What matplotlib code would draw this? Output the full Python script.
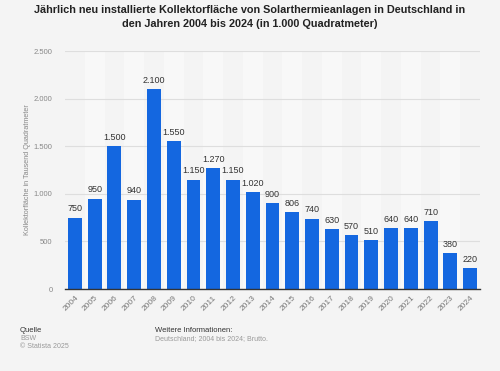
import matplotlib

matplotlib.use("Agg")
import matplotlib.pyplot as plt
import numpy as np

plt.rcParams["font.family"] = ["Liberation Sans", "DejaVu Sans"]

YEARS = [str(y) for y in range(2004, 2025)]
AREA = [750, 950, 1500, 940, 2100, 1550, 1150, 1270, 1150, 1020, 900,
        806, 740, 630, 570, 510, 640, 640, 710, 380, 220]
Y_TICKS = [0, 500, 1000, 1500, 2000, 2500]


def de_fmt(v):
    return f"{v:,}".replace(",", ".")


def main():
    bg = "#f4f4f4"
    fig = plt.figure(figsize=(5, 3.71), dpi=100, facecolor=bg)
    ax = fig.add_axes([0.13, 0.221, 0.83, 0.6415], facecolor=bg)

    x = np.arange(len(YEARS))
    for i in x[1::2]:
        ax.axvspan(i - 0.5, i + 0.5, color="#f8f8f8", zorder=0, lw=0)

    bars = ax.bar(x, AREA, width=0.7, color="#1467e0", zorder=3)
    for b, v in zip(bars, AREA):
        ax.annotate(de_fmt(v), xy=(b.get_x() + b.get_width() / 2, v),
                    xytext=(0, 3), textcoords="offset points",
                    ha="center", va="bottom", fontsize=6.5, color="#333333")

    ax.set_xlim(-0.5, len(YEARS) - 0.5)
    ax.set_ylim(0, 2500)
    ax.set_yticks(Y_TICKS)
    ax.set_yticklabels([de_fmt(t) for t in Y_TICKS], fontsize=5.5, color="#888888")
    ax.set_xticks(x)
    ax.set_xticklabels(YEARS, rotation=45, ha="right", rotation_mode="anchor",
                       fontsize=6, color="#777777")
    ax.tick_params(length=0, pad=9)
    ax.tick_params(axis="x", pad=4)
    ax.grid(axis="y", color="#dedede", lw=0.8, zorder=1)
    for s in ("top", "right", "left"):
        ax.spines[s].set_visible(False)
    ax.spines["bottom"].set_color("#333333")
    ax.spines["bottom"].set_linewidth(1)
    ax.spines["bottom"].set_zorder(4)
    ax.set_ylabel("Kollektorfläche in Tausend Quadratmeter", fontsize=5.2,
                  color="#888888", labelpad=2)

    fig.text(0.5, 1 - 17 / 371,
             "Jährlich neu installierte Kollektorfläche von Solarthermieanlagen in Deutschland in\n"
             "den Jahren 2004 bis 2024 (in 1.000 Quadratmeter)",
             ha="center", va="center", fontsize=7.8, fontweight="bold",
             color="#222222", linespacing=1.6)

    fig.text(20 / 500, 1 - 331 / 371, "Quelle", fontsize=5.5, color="#333333", va="center")
    fig.text(20 / 500, 1 - 339 / 371, "BSW", fontsize=5, color="#999999", va="center")
    fig.text(20 / 500, 1 - 347 / 371, "© Statista 2025", fontsize=5, color="#999999", va="center")
    fig.text(155 / 500, 1 - 331 / 371, "Weitere Informationen:", fontsize=5.5,
             color="#333333", va="center")
    fig.text(155 / 500, 1 - 339 / 371, "Deutschland; 2004 bis 2024; Brutto.",
             fontsize=5, color="#999999", va="center")

    fig.savefig("out.png", dpi=100, facecolor=bg)


if __name__ == "__main__":
    main()
